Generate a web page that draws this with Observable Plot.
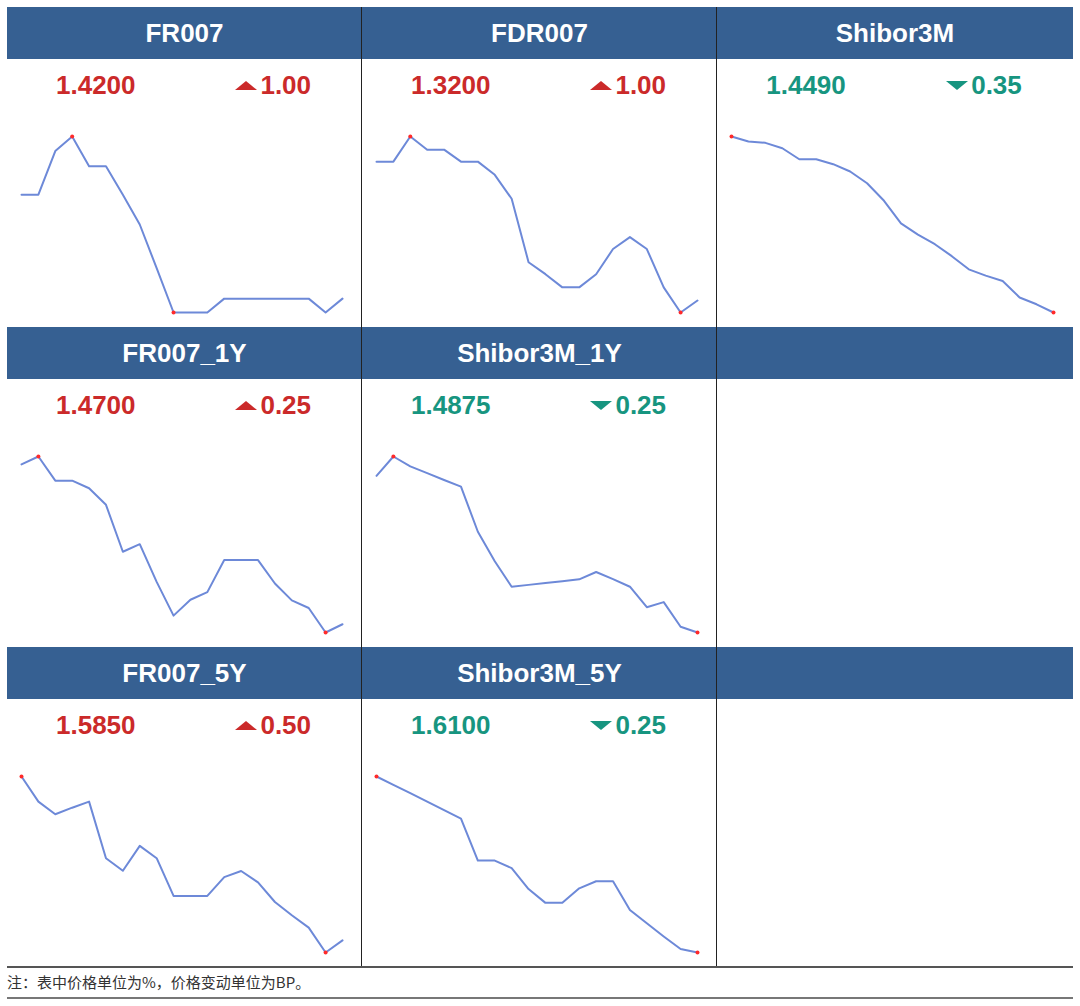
<!DOCTYPE html>
<html><head><meta charset="utf-8">
<script src="https://cdn.jsdelivr.net/npm/d3@7"></script>
<script src="https://cdn.jsdelivr.net/npm/@observablehq/plot@0.6"></script>
<style>
html,body{margin:0;padding:0;background:#fff;}
body{width:1080px;height:1006px;position:relative;overflow:hidden;font-family:"Liberation Sans",Arial,sans-serif;}
.hdr{position:absolute;height:52px;background:#366092;}
.hdrtxt{position:absolute;height:52px;line-height:52px;text-align:center;color:#fff;font-weight:bold;font-size:26px;}
.vline{position:absolute;width:1px;background:#222;}
.body{position:absolute;height:268px;}
.nums{position:absolute;left:0;right:0;top:12px;height:28px;display:flex;font-weight:bold;font-size:26px;line-height:28px;}
.nums div{flex:1;text-align:center;white-space:nowrap;}
.tri{display:inline-block;vertical-align:4px;margin-right:3px;}
.body svg.plot{position:absolute;left:0;top:0;}
.hl{position:absolute;left:7px;width:1066px;height:2px;}
#note{position:absolute;left:7px;top:973px;font-size:15px;color:#333;font-family:"Noto Sans CJK SC","Liberation Sans",sans-serif;line-height:18px;}
</style>
</head><body>
<script>
// ---- data ----
const names = ["FR007","FDR007","Shibor3M","FR007_1Y","Shibor3M_1Y","FR007_5Y","Shibor3M_5Y"];
const lastValues = [1.4200, 1.3200, 1.4490, 1.4700, 1.4875, 1.5850, 1.6100];
const changes = [1.00, 1.00, -0.35, 0.25, -0.25, 0.50, -0.25];
const slots = [[0,0],[0,1],[0,2],[1,0],[1,1],[2,0],[2,1]];

const fr007 = [1.495,1.495,1.5265,1.537,1.5155,1.5155,1.495,1.4735,1.442,1.41,1.41,1.41,1.42,1.42,1.42,1.42,1.42,1.42,1.41,1.42];
const fdr007 = [1.436,1.436,1.457,1.446,1.446,1.436,1.436,1.425,1.405,1.352,1.342,1.331,1.331,1.342,1.363,1.373,1.363,1.331,1.31,1.32];
const shibor3m = [1.524,1.5219,1.5213,1.519,1.5143,1.5143,1.5122,1.5091,1.5041,1.4966,1.487,1.4822,1.4781,1.473,1.4674,1.4647,1.4624,1.4554,1.4525,1.449];
const fr007_1y = [1.5183,1.5207,1.5134,1.5134,1.5111,1.5061,1.4919,1.4942,1.4828,1.4726,1.4774,1.4797,1.4894,1.4894,1.4894,1.4823,1.4772,1.4749,1.4675,1.47];
const shibor3m_1y = [1.5556,1.564,1.5597,1.5568,1.5538,1.5509,1.5313,1.5185,1.5074,1.5082,1.509,1.5098,1.5106,1.5138,1.5107,1.5074,1.4985,1.5007,1.49,1.4875];
const fr007_5y = [1.6528,1.6424,1.6372,1.6399,1.6424,1.619,1.6138,1.6241,1.619,1.6034,1.6034,1.6034,1.6112,1.6137,1.609,1.6009,1.5954,1.5903,1.58,1.585];
const shibor3m_5y = [1.7348,1.7289,1.723,1.717,1.7109,1.705,1.6752,1.6752,1.6698,1.655,1.6452,1.6452,1.6555,1.6605,1.6605,1.6402,1.6307,1.6214,1.6125,1.61];
const seriesList = [fr007, fdr007, shibor3m, fr007_1y, shibor3m_1y, fr007_5y, shibor3m_5y];
const noteText = "注：表中价格单位为%，价格变动单位为BP。";

// ---- layout ----
const colLeft = [7, 362, 717];
const colWidth = [355, 355, 356];
const rowTop = [7, 327, 647];
const HDR = 52, BODY = 268;
const RED = "#cb2a2a", GREEN = "#179580";

function el(tag, cls, style, parent){ const e=document.createElement(tag); if(cls) e.className=cls; Object.assign(e.style, style||{}); (parent||document.body).appendChild(e); return e; }

// header bands
rowTop.forEach(t => el("div","hdr",{left:"7px",top:t+"px",width:"1066px"}));

// cells
slots.forEach(([r,c], k) => {
  const h = el("div","hdrtxt",{left:colLeft[c]+"px",top:rowTop[r]+"px",width:colWidth[c]+"px"});
  h.textContent = names[k];
  const body = el("div","body",{left:colLeft[c]+"px",top:(rowTop[r]+HDR)+"px",width:colWidth[c]+"px"});
  const vals = seriesList[k];
  const data = vals.map((v,i)=>({i, v}));
  const iMax = d3.maxIndex(vals), iMin = d3.minIndex(vals);
  const svg = Plot.plot({
    width: colWidth[c], height: BODY,
    marginLeft: 14, marginRight: 20, marginTop: 77, marginBottom: 15,
    x: {axis: null, domain: [0, vals.length - 1]},
    y: {axis: null},
    style: {background: "transparent"},
    marks: [
      Plot.lineY(data, {x: "i", y: "v", stroke: "#6d89d8", strokeWidth: 2}),
      Plot.dot([data[iMax], data[iMin]], {x: "i", y: "v", r: 2, fill: "#ff2a2a", stroke: "none"})
    ]
  });
  body.appendChild(svg);
  const up = changes[k] >= 0;
  const col = up ? RED : GREEN;
  const nums = el("div","nums",{color: col}, body);
  const a = el("div",null,{},nums); a.textContent = lastValues[k].toFixed(4);
  const b = el("div",null,{},nums);
  const pts = up ? "0,9 11,0 22,9" : "0,0 22,0 11,9";
  b.innerHTML = `<svg class="tri" width="22" height="9"><polygon points="${pts}" fill="${col}"/></svg>`;
  b.appendChild(document.createTextNode(Math.abs(changes[k]).toFixed(2)));
});

// vertical dividers
[362, 717].forEach(x => el("div","vline",{left:(x-1)+"px",top:"7px",height:"960px"}));
// bottom lines + note
el("div","hl",{top:"966px",background:"#555"});
const n = el("div",null,{}); n.id="note"; n.textContent = noteText;
el("div","hl",{top:"997px",background:"#777"});
</script>
</body></html>
